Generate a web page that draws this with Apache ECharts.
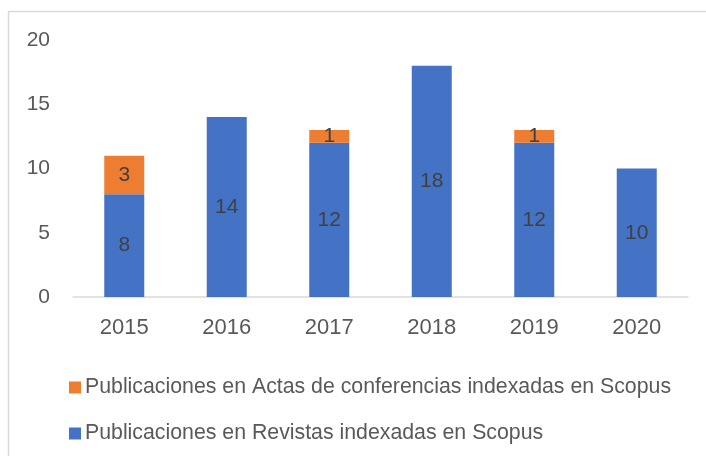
<!DOCTYPE html>
<html>
<head>
<meta charset="utf-8">
<script src="https://cdn.jsdelivr.net/npm/echarts@6/dist/echarts.min.js"></script>
<style>
  html, body { margin: 0; padding: 0; background: #fff; }
  #chart { width: 706px; height: 456px; }
</style>
</head>
<body>
<div id="chart"></div>
<script>
var years = ['2015', '2016', '2017', '2018', '2019', '2020']
var revistas = [8, 14, 12, 18, 12, 10]
var actas = [3, null, 1, null, 1, null]
var nameActas = 'Publicaciones en Actas de conferencias indexadas en Scopus'
var nameRevistas = 'Publicaciones en Revistas indexadas en Scopus'
var yTicks = [0, 5, 10, 15, 20]

var font = "'Liberation Sans', sans-serif"
var chart = echarts.init(document.getElementById('chart'))

chart.setOption({
  animation: false,
  textStyle: { fontFamily: font },
  graphic: [{
    type: 'rect',
    shape: { x: 8.5, y: 11.5, width: 720, height: 460 },
    style: { fill: 'none', stroke: '#d9d9d9', lineWidth: 1.5 }
  }],
  grid: { left: 73, right: 18, top: 40, bottom: 159, containLabel: false },
  legend: {
    orient: 'vertical',
    left: 64,
    top: 372,
    itemGap: 25,
    itemWidth: 12,
    itemHeight: 12,
    icon: 'rect',
    data: [nameActas, nameRevistas],
    textStyle: { color: '#595959', fontSize: 21.3, fontFamily: font, padding: [0, 0, 0, -1] }
  },
  xAxis: {
    type: 'category',
    data: years,
    axisLine: { lineStyle: { color: '#d9d9d9', width: 1.5 } },
    axisTick: { show: false },
    axisLabel: { color: '#595959', fontSize: 22, margin: 20 }
  },
  yAxis: {
    type: 'value',
    min: yTicks[0],
    max: yTicks[yTicks.length - 1],
    interval: 5,
    splitLine: { show: false },
    axisLine: { show: false },
    axisTick: { show: false },
    axisLabel: { color: '#595959', fontSize: 21, margin: 23 }
  },
  series: [
    {
      name: nameRevistas,
      type: 'bar',
      stack: 'total',
      data: revistas,
      barWidth: 40,
      itemStyle: { color: '#4472c4' },
      label: { show: true, position: 'inside', color: '#404040', fontSize: 21 }
    },
    {
      name: nameActas,
      type: 'bar',
      stack: 'total',
      data: actas,
      barWidth: 40,
      itemStyle: { color: '#ed7d31' },
      label: { show: true, position: 'inside', color: '#404040', fontSize: 21 }
    }
  ]
})
</script>
</body>
</html>
